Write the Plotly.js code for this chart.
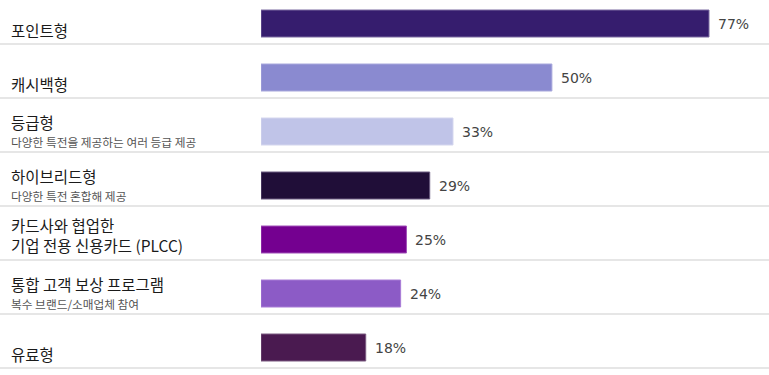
<!DOCTYPE html>
<html>
<head>
<meta charset="utf-8">
<script src="https://cdn.plot.ly/plotly-3.0.1.min.js"></script>
<style>html,body{margin:0;padding:0;background:#fff;}#chart{width:769px;height:375px;}</style>
</head>
<body>
<div id="chart"></div>
<script>
var categories = ["포인트형", "캐시백형", "등급형", "하이브리드형", "PLCC", "통합 고객 보상 프로그램", "유료형"];
var mainLabels = ["포인트형", "캐시백형", "등급형", "하이브리드형", "카드사와 협업한<br>기업 전용 신용카드 (PLCC)", "통합 고객 보상 프로그램", "유료형"];
var subLabels = ["", "", "다양한 특전을 제공하는 여러 등급 제공", "다양한 특전 혼합해 제공", "", "복수 브랜드/소매업체 참여", ""];
var values = [77, 50, 33, 29, 25, 24, 18];
var valueLabels = ["77%", "50%", "33%", "29%", "25%", "24%", "18%"];
var barColors = ["#361d6e", "#8a8ad0", "#c0c4e8", "#200e38", "#740090", "#8c5bc6", "#4a1a50"];
var barEdge = ["#7a6aa0", "#a8a8dc", "#d4d6ee", "#6a5a80", "#a050b8", "#a87cd6", "#7a5a80"];

var W = 769, H = 375, plotLeft = 261, pxPerUnit = 5.818, rowPx = 54, firstCenter = 23.5;
var xMax = (W - plotLeft) / pxPerUnit;
var yTop = -firstCenter / rowPx;
var yBottom = yTop + H / rowPx;

var trace = {
  type: "bar",
  orientation: "h",
  y: categories,
  x: values,
  marker: {color: barColors, line: {color: barEdge, width: 1}},
  width: 27 / rowPx,
  hoverinfo: "none"
};

var annotations = [];
var shapes = [];
var labelFont = "'Noto Sans CJK KR', 'Noto Sans', sans-serif";
var leftX = -plotLeft / (W - plotLeft) + 12 / (W - plotLeft);
for (var i = 0; i < categories.length; i++) {
  annotations.push({
    xref: "x", yref: "y", x: values[i], y: categories[i],
    text: valueLabels[i], showarrow: false, xanchor: "left", yanchor: "middle",
    xshift: 7, yshift: 0,
    font: {family: "'DejaVu Sans', sans-serif", size: 14, color: "#444444"}
  });
  var hasSub = subLabels[i] !== "";
  var isTwoLine = mainLabels[i].indexOf("<br>") >= 0;
  var mainShift = hasSub ? 9.5 : (isTwoLine ? 5 : -6.5);
  annotations.push({
    xref: "paper", yref: "y", x: leftX, y: categories[i],
    text: mainLabels[i], showarrow: false, xanchor: "left", yanchor: "middle", align: "left",
    xshift: -2, yshift: mainShift, borderpad: 0,
    font: {family: labelFont, size: 15.5, color: "#1a1a1a"}
  });
  if (hasSub) {
    annotations.push({
      xref: "paper", yref: "y", x: leftX, y: categories[i],
      text: subLabels[i], showarrow: false, xanchor: "left", yanchor: "middle", align: "left",
      xshift: -2, yshift: -10, borderpad: 0,
      font: {family: labelFont, size: 11.7, color: "#555555"}
    });
  }
  shapes.push({
    type: "line", xref: "paper", yref: "y",
    x0: -plotLeft / (W - plotLeft), x1: 1, y0: i + 20.5 / rowPx, y1: i + 20.5 / rowPx,
    line: {color: "#e6e6e6", width: 2}, layer: "below"
  });
}

var layout = {
  width: W, height: H,
  margin: {l: plotLeft, r: 0, t: 0, b: 0, pad: 0},
  paper_bgcolor: "#ffffff", plot_bgcolor: "#ffffff",
  showlegend: false,
  xaxis: {range: [0, xMax], visible: false, fixedrange: true},
  yaxis: {type: "category", range: [yBottom, yTop], visible: false, fixedrange: true},
  annotations: annotations,
  shapes: shapes
};

Plotly.newPlot("chart", [trace], layout, {displayModeBar: false, staticPlot: true});
</script>
</body>
</html>
